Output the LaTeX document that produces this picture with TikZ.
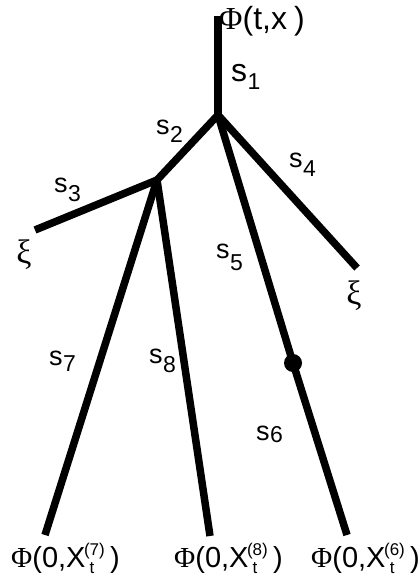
\documentclass[tikz,border=0pt]{standalone}
\usepackage{fontspec}
\setmainfont{Liberation Sans}
\newfontfamily\grk{Liberation Serif}
\newcommand{\Ph}{{\grk Φ}}
\newcommand{\sub}[3][8pt]{#2\kern0.5pt\raisebox{-#1}{\fontsize{23}{23}\selectfont #3}}
\newcommand{\Xt}[1]{X\kern-1.5pt{\fontsize{17}{17}\selectfont\rlap{\raisebox{12pt}{(#1)}}\raisebox{-6pt}{\phantom{(}t}\phantom{#1)}}\kern0.5pt}
\begin{document}
\begin{tikzpicture}[x=1pt,y=-1pt,
  edge/.style={line width=7.5pt,line cap=butt,line join=round},
  lab/.style={inner sep=0pt,anchor=base west,font=\fontsize{27}{27}\selectfont},
  blab/.style={inner sep=0pt,anchor=base west,font=\fontsize{29}{29}\selectfont},
  xi/.style={inner sep=0pt,font=\grk\fontsize{34}{34}\selectfont}]
\useasboundingbox (0,0) rectangle (419,577);
\coordinate (t0) at (218,16);
\coordinate (A) at (218,115);
\coordinate (B) at (157,180);
\coordinate (L3) at (35,230);
\coordinate (R4) at (357,268);
\coordinate (D) at (293,363);
\coordinate (E6) at (347,535);
\coordinate (E7) at (45,535);
\coordinate (E8) at (210,536);
\draw[edge] (t0) -- (A);
\draw[edge] (A) -- (B);
\draw[edge] (B) -- (L3);
\draw[edge] (A) -- (R4);
\draw[edge] (A) -- (D) -- (E6);
\draw[edge] (B) -- (E7);
\draw[edge] (B) -- (E8);
\fill (D) circle (9);
\node[blab,font=\fontsize{32}{32}\selectfont] (top) at (219,30) {\Ph(t,x\kern7pt)};
\node[lab,font=\fontsize{32}{32}\selectfont] (l1) at (231,82) {\sub{s}{1}};
\node[lab] (l2) at (156,135) {\sub{s}{2}};
\node[lab] (l3) at (54,193) {\sub[9pt]{s}{3}};
\node[lab] (l4) at (289,168) {\sub[9pt]{s}{4}};
\node[lab] (l5) at (216,258) {\sub[12pt]{s}{5}};
\node[lab] (l6) at (256,440) {\sub[2pt]{s}{6}};
\node[lab] (l7) at (49,365) {\sub[6pt]{s}{7}};
\node[lab] (l8) at (149,363) {\sub[9pt]{s}{8}};
\node[xi] (x1) at (24,255) {ξ};
\node[xi] (x2) at (354,296) {ξ};
\node[blab] (b7) at (11,567) {\Ph(0,\Xt{7})};
\node[blab] (b8) at (174,567) {\Ph(0,\Xt{8})};
\node[blab] (b6) at (311,567) {\Ph(0,\Xt{6})};
\end{tikzpicture}
\end{document}
